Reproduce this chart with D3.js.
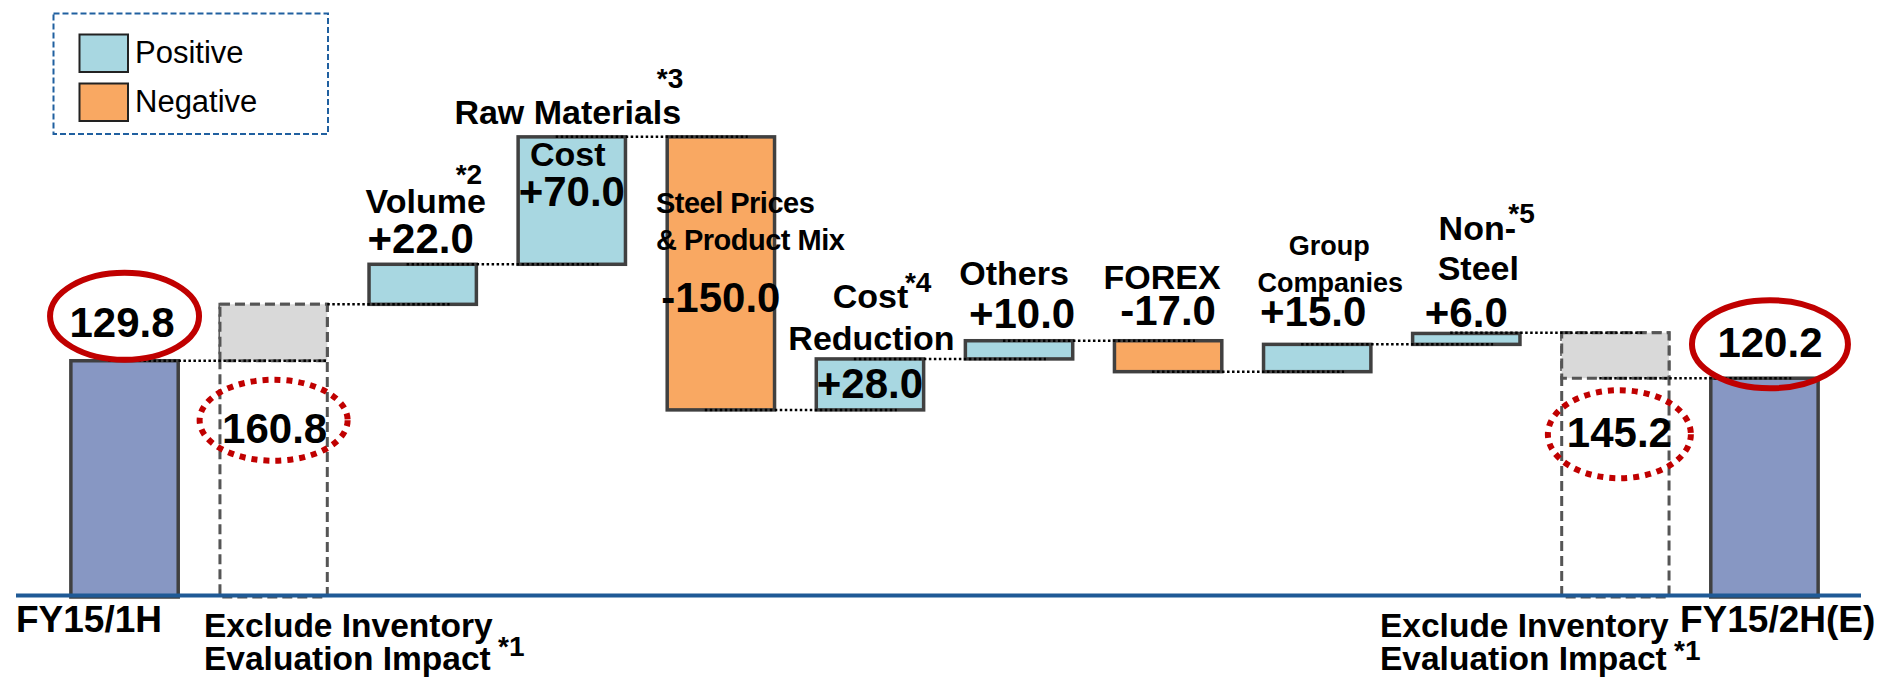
<!DOCTYPE html>
<html><head><meta charset="utf-8">
<script src="https://cdn.jsdelivr.net/npm/d3@7"></script>
<style>body{margin:0;background:#fff}svg{display:block}text{font-family:"Liberation Sans",Arial,sans-serif}</style>
</head><body><svg id="c" width="1881" height="681"></svg>
<script>
// ---------- data ----------
const categories = ["FY15/1H","Excl1H","Volume","Raw Materials Cost","Steel Prices & Product Mix","Cost Reduction","Others","FOREX","Group Companies","Non-Steel","Excl2H","FY15/2H(E)"];
const startValue = 129.8;
const startExcluded = 160.8;
const deltas = [22.0, 70.0, -150.0, 28.0, 10.0, -17.0, 15.0, 6.0];
const deltaLabels = ["+22.0","+70.0","-150.0","+28.0","+10.0","-17.0","+15.0","+6.0"];
const endExcluded = 145.2;
const endValue = 120.2;
const totalLabels = ["129.8","160.8","145.2","120.2"];
const legendLabels = ["Positive","Negative"];
const bottomLabels = ["FY15/1H","Exclude Inventory","Evaluation Impact","FY15/2H(E)"];

// ---------- styles ----------
const C = {pos:"#A8D7E1", neg:"#F9A862", total:"#8797C3", gray:"#D9D9D9", edge:"#404040", red:"#C00000", axis:"#1F5A96"};
const SUP = 28;

const svg = d3.select("#c");
const x = d3.scaleBand().domain(categories).range([50,1839]).paddingInner(0.28).paddingOuter(0.14);
const y = d3.scaleLinear().domain([0,328]).range([597,0]);
const bw = x.bandwidth();
const cx = c => x(c) + bw/2;

// build waterfall
const bars = [];
bars.push({cat:categories[0], lo:0, hi:startValue, type:"total"});
let run = startExcluded;
const levels = [startValue, startExcluded];
deltas.forEach((d,i) => {
  const a = run, b = run + d;
  bars.push({cat:categories[i+2], lo:Math.min(a,b), hi:Math.max(a,b), type:d>=0?"pos":"neg", label:deltaLabels[i], v:d});
  run = b; levels.push(run);
});
levels.push(endValue);

const gBars = svg.append("g");
// excluded boxes
[[categories[1], startExcluded, startValue],[categories[10], endExcluded, endValue]].forEach(([c,hi,lo]) => {
  gBars.append("rect").attr("x",x(c)).attr("y",y(hi)).attr("width",bw).attr("height",y(0)-y(hi))
    .attr("fill","#fff").attr("stroke","#555").attr("stroke-width",3).attr("stroke-dasharray","10,5");
  gBars.append("rect").attr("x",x(c)).attr("y",y(hi)).attr("width",bw).attr("height",y(lo)-y(hi))
    .attr("fill",C.gray).attr("stroke","#555").attr("stroke-width",3).attr("stroke-dasharray","10,5");
});
bars.push({cat:categories[11], lo:0, hi:endValue, type:"total"});

gBars.selectAll("rect.b").data(bars).join("rect").attr("class","b")
  .attr("x",d=>x(d.cat)).attr("y",d=>y(d.hi)).attr("width",bw).attr("height",d=>y(d.lo)-y(d.hi))
  .attr("fill",d=>C[d.type]).attr("stroke",C.edge).attr("stroke-width",3.5);

// connectors
const gCon = svg.append("g");
levels.forEach((lv,i) => {
  if (i >= categories.length-1) return;
  let x1 = x(categories[i]) + bw*0.35, x2 = x(categories[i+1]) + bw*0.75;
  if (i===0) x2 = x(categories[1]) + bw;
  if (i===1) x1 = x(categories[1]) + bw;
  const lvl = (i===9) ? endExcluded : lv;
  gCon.append("line").attr("x1",x1).attr("x2",x2).attr("y1",y(lvl)).attr("y2",y(lvl))
    .attr("stroke","#000").attr("stroke-width",2.5).attr("stroke-dasharray","2.5,2.5");
});

// axis line
svg.append("line").attr("x1",16).attr("x2",1861).attr("y1",y(0)-1.5).attr("y2",y(0)-1.5)
  .attr("stroke",C.axis).attr("stroke-width",4);

// text helper
const T = (px,py,s,size,anchor="middle",weight="bold",extra={}) => {
  const t = svg.append("text").attr("x",px).attr("y",py).attr("font-size",size+"px")
    .attr("font-weight",weight).attr("text-anchor",anchor).attr("fill","#000").text(s);
  Object.entries(extra).forEach(([k,v])=>t.attr(k,v));
  return t;
};
const yTop = c => { const b = bars.find(d=>d.cat===c); return y(b.hi); };

// totals + ellipses
let c0 = categories[0];
svg.append("ellipse").attr("cx",cx(c0)).attr("cy",yTop(c0)-44.5).attr("rx",74.5).attr("ry",43.5)
  .attr("fill","none").attr("stroke",C.red).attr("stroke-width",6);
T(cx(c0)-2.5, yTop(c0)-24, totalLabels[0], 42);

let c1 = categories[1];
svg.append("ellipse").attr("cx",cx(c1)).attr("cy",y(startValue)+59.5).attr("rx",74).attr("ry",40.5)
  .attr("fill","none").attr("stroke",C.red).attr("stroke-width",6).attr("stroke-dasharray","6,6");
T(cx(c1)+1, y(startValue)+82, totalLabels[1], 42);

let c10 = categories[10];
svg.append("ellipse").attr("cx",cx(c10)+4).attr("cy",y(endValue)+56).attr("rx",71.5).attr("ry",44)
  .attr("fill","none").attr("stroke",C.red).attr("stroke-width",6).attr("stroke-dasharray","6,6");
T(cx(c10)+4, y(endValue)+69, totalLabels[2], 42);

let c11 = categories[11];
T(cx(c11)+5.5, yTop(c11)-21, totalLabels[3], 42);
svg.append("ellipse").attr("cx",cx(c11)+5.5).attr("cy",yTop(c11)-34).attr("rx",78).attr("ry",44)
  .attr("fill","none").attr("stroke",C.red).attr("stroke-width",6);

// delta labels
let c;
c = categories[2];
T(cx(c)+3, yTop(c)-51, "Volume", 34);
T(cx(c)+33, yTop(c)-80, "*2", SUP, "start");
T(cx(c)-2, yTop(c)-11, deltaLabels[0], 42);

c = categories[3];
T(cx(c)-4, yTop(c)-13, "Raw Materials", 34);
T(cx(c)+85, yTop(c)-49, "*3", SUP, "start");
T(cx(c)-4, yTop(c)+29, "Cost", 34);
T(cx(c), yTop(c)+69, deltaLabels[1], 42);

c = categories[4];
T(cx(c)-65, yTop(c)+76, "Steel Prices", 29, "start", "bold", {"letter-spacing":"-0.5px"});
T(cx(c)-65, yTop(c)+113, "& Product Mix", 29, "start", "bold", {"letter-spacing":"-0.5px"});
T(cx(c), yTop(c)+175, deltaLabels[2], 42);

c = categories[5];
T(cx(c)+0.5, yTop(c)-51, "Cost", 34);
T(cx(c)+35, yTop(c)-67, "*4", SUP, "start");
T(cx(c)+1.5, yTop(c)-9, "Reduction", 34);
T(cx(c), yTop(c)+39, deltaLabels[3], 42);

c = categories[6];
T(cx(c)-5, yTop(c)-56, "Others", 34);
T(cx(c)+3, yTop(c)-13, deltaLabels[4], 42);

c = categories[7];
T(cx(c)-6, yTop(c)-52, "FOREX", 34);
T(cx(c), yTop(c)-16, deltaLabels[5], 42);

c = categories[8];
T(cx(c)+12, yTop(c)-89, "Group", 27);
T(cx(c)+13, yTop(c)-52, "Companies", 27);
T(cx(c)-4, yTop(c)-18, deltaLabels[6], 42);

c = categories[9];
T(cx(c)+11, yTop(c)-93, "Non-", 34);
T(cx(c)+42, yTop(c)-110, "*5", SUP, "start");
T(cx(c)+12, yTop(c)-53, "Steel", 34);
T(cx(c), yTop(c)-6.5, deltaLabels[7], 42);

// bottom labels
T(16, 632, bottomLabels[0], 37, "start");
T(204, 637, bottomLabels[1], 33.5, "start");
T(204, 670, bottomLabels[2], 33.5, "start");
T(498, 656, "*1", SUP, "start");
T(1380, 637, bottomLabels[1], 33.5, "start");
T(1380, 670, bottomLabels[2], 33.5, "start");
T(1674, 660, "*1", SUP, "start");
T(1680, 632, bottomLabels[3], 37, "start");

// legend
svg.append("rect").attr("x",53.5).attr("y",13.5).attr("width",274.5).attr("height",120.5)
  .attr("fill","none").attr("stroke","#2060A0").attr("stroke-width",2).attr("stroke-dasharray","6,3");
legendLabels.forEach((l,i) => {
  svg.append("rect").attr("x",79.5).attr("y",34.5+i*49).attr("width",48.5).attr("height",37.5)
    .attr("fill",i===0?C.pos:C.neg).attr("stroke","#222").attr("stroke-width",2);
  T(135, 63+i*48.5, l, 31, "start", "normal");
});
</script></body></html>
